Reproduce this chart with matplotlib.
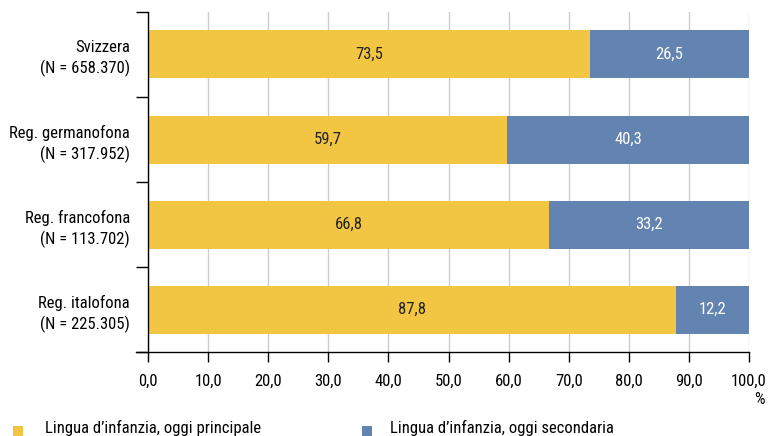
import matplotlib
matplotlib.use("Agg")
import matplotlib.pyplot as plt
from matplotlib.patches import Rectangle
from matplotlib import font_manager

names = {f.name for f in font_manager.fontManager.ttflist}
fam = [n for n in ["Roboto Condensed", "Liberation Sans Narrow", "Liberation Sans", "DejaVu Sans"] if n in names]
plt.rcParams['font.family'] = fam

categories = ["Svizzera\n(N = 658.370)", "Reg. germanofona\n(N = 317.952)",
              "Reg. francofona\n(N = 113.702)", "Reg. italofona\n(N = 225.305)"]
principale = [73.5, 59.7, 66.8, 87.8]
secondaria = [26.5, 40.3, 33.2, 12.2]
series_names = ["Lingua d\u2019infanzia, oggi principale", "Lingua d\u2019infanzia, oggi secondaria"]
xticks = [0, 10, 20, 30, 40, 50, 60, 70, 80, 90, 100]

YEL = "#F2C643"
BLU = "#6384B1"

W, H = 779, 436
fig = plt.figure(figsize=(W/100, H/100), dpi=100)
ax = fig.add_axes([148/W, 1-352/H, 601/W, 340/H])

n = len(categories)
ypos = [n - 0.5 - i for i in range(n)]
bh = 48/85
ax.barh(ypos, principale, height=bh, color=YEL, zorder=3)
ax.barh(ypos, secondaria, left=principale, height=bh, color=BLU, zorder=3)

fmt = lambda v: f"{v:.1f}".replace(".", ",")
for y, p, s in zip(ypos, principale, secondaria):
    ax.text(p/2, y, fmt(p), ha="center", va="center", fontsize=12, color="#222222", zorder=4)
    ax.text(p + s/2, y, fmt(s), ha="center", va="center", fontsize=12, color="white", zorder=4)

ax.set_xlim(0, 100)
ax.set_ylim(0, n)
ax.set_xticks(xticks)
ax.set_xticklabels([fmt(v) for v in xticks], fontsize=12)
ax.tick_params(axis="x", length=7.5, width=1, pad=8, color="black")
ax.set_yticks(range(n+1))
ax.set_yticklabels([])
ax.tick_params(axis="y", which="major", length=8.6, width=1)
ax.set_yticks(ypos, minor=True)
ax.set_yticklabels(categories, minor=True, fontsize=12, ha="right", linespacing=1.35)
ax.tick_params(axis="y", which="minor", length=0, pad=13)

ax.grid(axis="x", color="#CCCCCC", linewidth=1, zorder=0)
for s in ["top", "right"]:
    ax.spines[s].set_visible(False)
ax.spines["left"].set_linewidth(1)
ax.spines["bottom"].set_linewidth(1)
ax.spines["bottom"].set_bounds(-12/6.01, 100)
ax.spines["bottom"].set_zorder(5)
ax.spines["left"].set_zorder(5)

fig.text(765/W, 1-399/H, "%", ha="right", va="center", fontsize=12)

# legend
for (x0, col, lab, tx) in [(13, YEL, series_names[0], 45), (362, BLU, series_names[1], 390)]:
    fig.add_artist(Rectangle((x0/W, 1-436/H), 10/W, 10/H, transform=fig.transFigure,
                             facecolor=col, edgecolor="none"))
    fig.text(tx/W, 1-428/H, lab, ha="left", va="center", fontsize=12)

fig.savefig("out.png", dpi=100)
